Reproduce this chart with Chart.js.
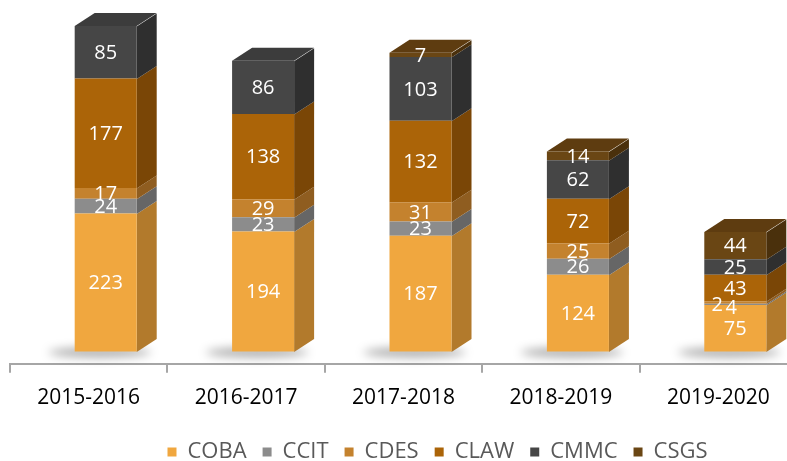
<!DOCTYPE html>
<html><head><meta charset="utf-8">
<script src="https://cdn.jsdelivr.net/npm/chart.js@4.4.0/dist/chart.umd.min.js"></script>
<style>
html,body{margin:0;padding:0;background:#fff;overflow:hidden;width:787px;height:461px}
#wrap{width:800px;height:461px;position:relative}
</style></head>
<body><div id="wrap"><canvas id="c" width="800" height="461"></canvas></div>
<script>
const categories = ['2015-2016','2016-2017','2017-2018','2018-2019','2019-2020'];
const seriesNames = ['COBA','CCIT','CDES','CLAW','CMMC','CSGS'];
const coba = [223,194,187,124,75];
const ccit = [24,23,23,26,2];
const cdes = [17,29,31,25,4];
const claw = [177,138,132,72,43];
const cmmc = [85,86,103,62,25];
const csgs = [0,0,7,14,44];
const seriesValues = [coba, ccit, cdes, claw, cmmc, csgs];

const frontColors = ['#f0a73f','#8c8c8c','#c4822e','#ab6408','#464646','#6a4614'];
const sideColors  = ['#b27a2c','#666666','#8f5d20','#7a4606','#2f2f2f','#4a300c'];
const topColors   = ['#f6c070','#a6a6a6','#d69a50','#c8821e','#3c3c3c','#5e3c10'];

const SHIFT = 17, DX = 20, DY = 13;

Chart.defaults.font.family = "'Open Sans', sans-serif";

const bar3d = {
  id: 'bar3d',
  afterLayout(chart) {
    const lg = chart.legend;
    if (lg) { lg.left += 34; lg.right += 34; lg.top += 1; lg.bottom += 1; }
  },
  beforeDatasetsDraw(chart) {
    const ctx = chart.ctx;
    ctx.save();
    ctx.translate(SHIFT, 0);
    const n = chart.data.labels.length;
    const metas = chart.data.datasets.map((d, i) => chart.getDatasetMeta(i));
    for (let j = 0; j < n; j++) {
      const el = metas[0].data[j];
      ctx.save();
      ctx.filter = 'blur(5px)';
      ctx.fillStyle = 'rgba(0,0,0,0.32)';
      ctx.beginPath();
      ctx.ellipse(el.x - 6, el.base + 1, el.width / 2 + 20, 5, 0, 0, Math.PI * 2);
      ctx.fill();
      ctx.restore();
    }
    for (let j = 0; j < n; j++) {
      let topIdx = -1;
      metas.forEach((m, i) => {
        const v = chart.data.datasets[i].data[j];
        if (!v) return;
        const el = m.data[j];
        topIdx = i;
        const r = el.x + el.width / 2;
        ctx.fillStyle = sideColors[i];
        ctx.beginPath();
        ctx.moveTo(r, el.y + 0.5);
        ctx.lineTo(r + DX, el.y - DY + 0.5);
        ctx.lineTo(r + DX, el.base - DY + 0.5);
        ctx.lineTo(r, el.base + 0.5);
        ctx.closePath();
        ctx.fill();
      });
      if (topIdx >= 0) {
        const el = metas[topIdx].data[j];
        const l = el.x - el.width / 2, r = el.x + el.width / 2;
        ctx.fillStyle = topColors[topIdx];
        ctx.beginPath();
        ctx.moveTo(l, el.y);
        ctx.lineTo(l + DX, el.y - DY);
        ctx.lineTo(r + DX, el.y - DY);
        ctx.lineTo(r, el.y);
        ctx.closePath();
        ctx.fill();
      }
    }
  },
  afterDatasetsDraw(chart) {
    const ctx = chart.ctx;
    const n = chart.data.labels.length;
    ctx.font = "20px 'Open Sans', sans-serif";
    ctx.fillStyle = '#ffffff';
    ctx.textAlign = 'center';
    ctx.textBaseline = 'middle';
    for (let j = 0; j < n; j++) {
      const labels = [];
      chart.data.datasets.forEach((ds, i) => {
        const v = ds.data[j];
        if (!v) return;
        const el = chart.getDatasetMeta(i).data[j];
        const lab = { text: String(v), x: el.x, y: (el.y + el.base) / 2 };
        const prev = labels[labels.length - 1];
        if (prev && Math.abs(prev.y - lab.y) < 8) {
          prev.x -= 18; lab.x -= 4; lab.y += 5;
        }
        labels.push(lab);
      });
      labels.forEach(l => ctx.fillText(l.text, l.x, l.y + 1));
    }
    ctx.restore();
  }
};

new Chart(document.getElementById('c'), {
  type: 'bar',
  data: {
    labels: categories,
    datasets: seriesNames.map((name, i) => ({
      label: name,
      data: seriesValues[i],
      backgroundColor: frontColors[i],
      borderWidth: 0,
      barPercentage: 0.394,
      categoryPercentage: 1
    }))
  },
  options: {
    responsive: false,
    animation: false,
    devicePixelRatio: 1,
    layout: { padding: { top: 5, left: 10, right: 3, bottom: 0 } },
    plugins: {
      tooltip: { enabled: false },
      legend: {
        position: 'bottom',
        maxHeight: 37,
        labels: { boxWidth: 9, boxHeight: 9, padding: 16, color: '#595959', font: { size: 22 } }
      }
    },
    scales: {
      x: {
        stacked: true,
        grid: { display: true, drawOnChartArea: false, drawTicks: true, tickLength: 9, offset: true, color: '#a6a6a6', lineWidth: 2 },
        border: { display: true, color: '#a6a6a6', width: 2 },
        ticks: { color: '#000000', font: { size: 21 }, padding: 13, maxRotation: 0, autoSkip: false }
      },
      y: { stacked: true, display: false, min: -20, max: 560 }
    }
  },
  plugins: [bar3d]
});
</script></body></html>
